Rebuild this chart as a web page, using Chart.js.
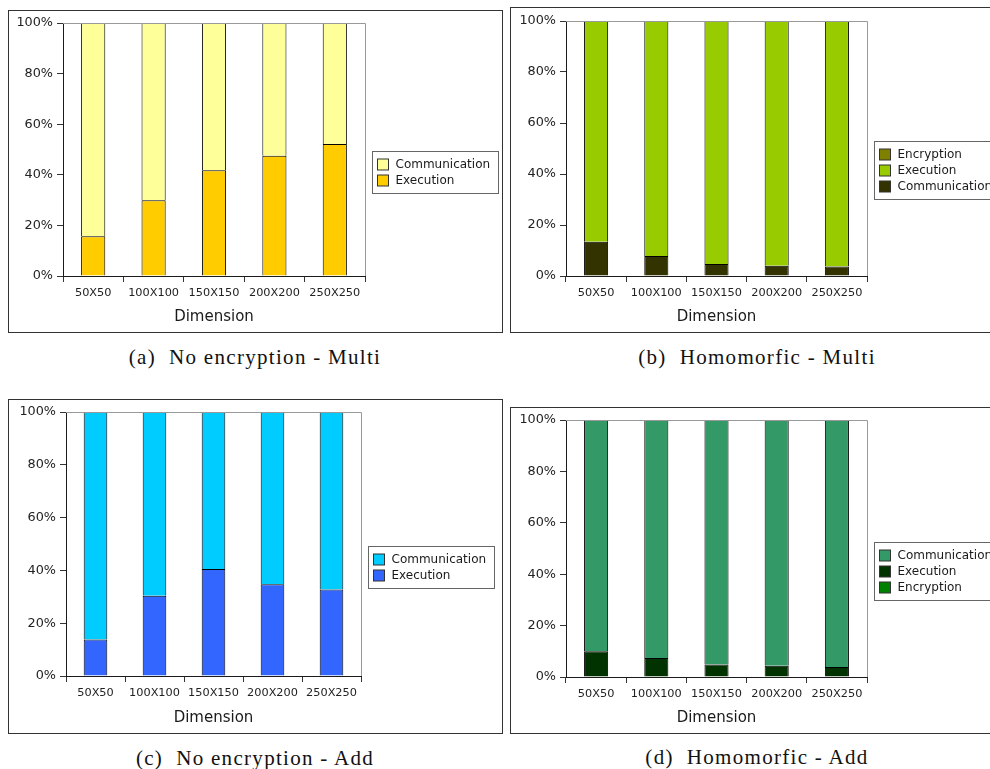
<!DOCTYPE html>
<html>
<head>
<meta charset="utf-8">
<script src="https://cdn.jsdelivr.net/npm/chart.js@4.4.1/dist/chart.umd.min.js"></script>
<style>
  html, body { margin: 0; padding: 0; background: #fff; }
  body { width: 990px; height: 769px; position: relative; overflow: hidden; }
  .frame { position: absolute; box-sizing: border-box; border: 1px solid #333; overflow: hidden; background: #fff; }
  .frame canvas { position: absolute; left: 0; top: 0; }
  .caption { position: absolute; width: 400px; height: 24px; line-height: 24px; text-align: center;
             font-family: 'Liberation Serif', serif; font-size: 21px; letter-spacing: 1.3px; color: #111; white-space: pre; }
</style>
</head>
<body>
<div class="frame" style="left:8px;top:10px;width:495px;height:323px"><canvas id="chartA" width="493" height="321"></canvas></div>
<div class="frame" style="left:510px;top:7px;width:490px;height:326px"><canvas id="chartB" width="488" height="324"></canvas></div>
<div class="frame" style="left:8px;top:399px;width:495px;height:335px"><canvas id="chartC" width="493" height="333"></canvas></div>
<div class="frame" style="left:510px;top:407px;width:490px;height:327px"><canvas id="chartD" width="488" height="325"></canvas></div>

<div class="caption" style="left:55px;top:345px">(a)  No encryption - Multi</div>
<div class="caption" style="left:557px;top:345px">(b)  Homomorfic - Multi</div>
<div class="caption" style="left:55px;top:746px">(c)  No encryption - Add</div>
<div class="caption" style="left:557px;top:745px">(d)  Homomorfic - Add</div>

<script>
// categories and tick labels
var dimensions = ['50X50', '100X100', '150X150', '200X200', '250X250'];
var yTickLabels = ['0%', '20%', '40%', '60%', '80%', '100%'];

// (a) No encryption - Multi
var multiPlainExecution = [15.7, 29.9, 41.8, 47.5, 52.2];
var multiPlainCommunication = [84.3, 70.1, 58.2, 52.5, 47.8];

// (b) Homomorfic - Multi
var multiHomoCommunication = [13.4, 7.8, 4.7, 4.0, 3.7];
var multiHomoExecution = [86.6, 92.2, 95.3, 96.0, 96.3];
var multiHomoEncryption = [0, 0, 0, 0, 0];

// (c) No encryption - Add
var addPlainExecution = [13.8, 30.4, 40.5, 34.8, 32.8];
var addPlainCommunication = [86.2, 69.6, 59.5, 65.2, 67.2];

// (d) Homomorfic - Add
var addHomoEncryption = [0, 0, 0, 0, 0];
var addHomoExecution = [10.0, 7.4, 4.9, 4.4, 3.9];
var addHomoCommunication = [90.0, 92.6, 95.1, 95.6, 96.1];

var FONT = 'DejaVu Sans';

// gray top/right edge of the plot area
var plotFrame = {
    id: 'plotFrame',
    afterDatasetsDraw: function (chart) {
        var a = chart.chartArea, ctx = chart.ctx;
        ctx.save();
        ctx.strokeStyle = '#999';
        ctx.lineWidth = 1;
        ctx.beginPath();
        ctx.moveTo(Math.round(a.left), Math.round(a.top) + 0.5);
        ctx.lineTo(Math.round(a.right) + 0.5, Math.round(a.top) + 0.5);
        ctx.lineTo(Math.round(a.right) + 0.5, Math.round(a.bottom));
        ctx.stroke();
        ctx.restore();
    }
};

// boxed legend to the right, top of stack listed first
var boxLegend = {
    id: 'boxLegend',
    afterDraw: function (chart) {
        var ctx = chart.ctx, a = chart.chartArea;
        var sets = chart.data.datasets.slice().reverse();
        ctx.save();
        ctx.font = '12px "' + FONT + '"';
        var textW = 0;
        sets.forEach(function (ds) { textW = Math.max(textW, ctx.measureText(ds.label).width); });
        var w = Math.round(23 + textW + 8);
        var h = 16 * sets.length + 10;
        var x = Math.round(a.right) + 7 + 0.5;
        var y = Math.round(chart.height / 2 - h / 2) + 0.5;
        ctx.fillStyle = '#fff';
        ctx.fillRect(x, y, w, h);
        ctx.strokeStyle = '#666';
        ctx.lineWidth = 1;
        ctx.strokeRect(x, y, w, h);
        sets.forEach(function (ds, i) {
            var cy = Math.round(y + 13 + 16 * i);
            ctx.fillStyle = ds.backgroundColor;
            ctx.fillRect(x + 5, cy - 6, 11, 11);
            ctx.strokeStyle = '#333';
            ctx.strokeRect(x + 5, cy - 6, 11, 11);
            ctx.fillStyle = '#1a1a1a';
            ctx.textBaseline = 'middle';
            ctx.fillText(ds.label, x + 23, cy);
        });
        ctx.restore();
    }
};

function bar(label, data, color) {
    return {
        label: label,
        data: data,
        backgroundColor: color,
        borderColor: '#000',
        borderWidth: 1,
        borderSkipped: 'start',
        categoryPercentage: 1,
        barPercentage: 0.4
    };
}

function makeOptions(yWidth, xHeight, padTop, padRight) {
    return {
        responsive: false,
        animation: false,
        layout: { padding: { left: 0, top: padTop, right: padRight, bottom: 0 } },
        plugins: { legend: { display: false }, tooltip: { enabled: false } },
        scales: {
            x: {
                stacked: true,
                afterFit: function (s) { s.height = xHeight; },
                grid: { drawOnChartArea: false, tickLength: 6, color: '#333', offset: true },
                border: { color: '#1a1a1a' },
                ticks: { color: '#222', padding: 4, maxRotation: 0, font: { family: FONT, size: 11.3 } },
                title: {
                    display: true,
                    text: 'Dimension',
                    color: '#1a1a1a',
                    font: { family: FONT, size: 15 },
                    padding: { top: 0, bottom: 6 }
                }
            },
            y: {
                stacked: true,
                min: 0,
                max: 100,
                afterFit: function (s) { s.width = yWidth; },
                grid: { drawOnChartArea: false, tickLength: 6, color: '#333' },
                border: { color: '#1a1a1a' },
                ticks: {
                    stepSize: 20,
                    padding: 4,
                    color: '#222',
                    font: { family: FONT, size: 12.8 },
                    callback: function (v, i) { return yTickLabels[i]; }
                }
            }
        }
    };
}

new Chart(document.getElementById('chartA'), {
    type: 'bar',
    data: {
        labels: dimensions,
        datasets: [
            bar('Execution', multiPlainExecution, '#ffcc00'),
            bar('Communication', multiPlainCommunication, '#ffff99')
        ]
    },
    options: makeOptions(54, 56, 12, 137),
    plugins: [plotFrame, boxLegend]
});

new Chart(document.getElementById('chartB'), {
    type: 'bar',
    data: {
        labels: dimensions,
        datasets: [
            bar('Communication', multiHomoCommunication, '#333300'),
            bar('Execution', multiHomoExecution, '#99cc00'),
            bar('Encryption', multiHomoEncryption, '#808000')
        ]
    },
    options: makeOptions(55, 56, 13, 132),
    plugins: [plotFrame, boxLegend]
});

new Chart(document.getElementById('chartC'), {
    type: 'bar',
    data: {
        labels: dimensions,
        datasets: [
            bar('Execution', addPlainExecution, '#3366ff'),
            bar('Communication', addPlainCommunication, '#00ccff')
        ]
    },
    options: makeOptions(57, 57, 12, 141),
    plugins: [plotFrame, boxLegend]
});

new Chart(document.getElementById('chartD'), {
    type: 'bar',
    data: {
        labels: dimensions,
        datasets: [
            bar('Encryption', addHomoEncryption, '#008000'),
            bar('Execution', addHomoExecution, '#003300'),
            bar('Communication', addHomoCommunication, '#339966')
        ]
    },
    options: makeOptions(55, 56, 12, 132),
    plugins: [plotFrame, boxLegend]
});
</script>
</body>
</html>
